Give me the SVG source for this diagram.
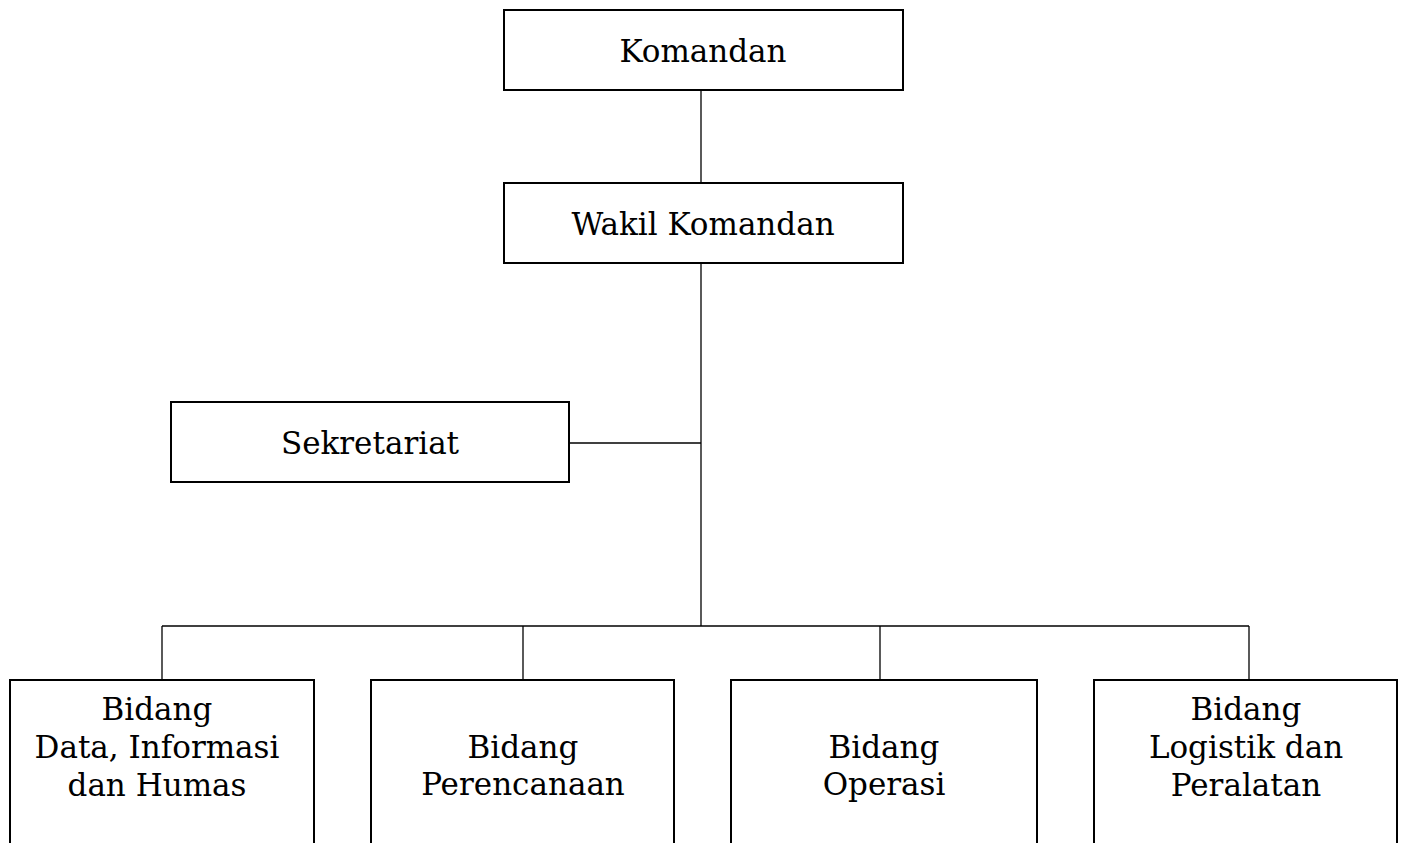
<svg xmlns="http://www.w3.org/2000/svg" width="1405" height="843" viewBox="0 0 1405 843">
<style>
.box{fill:#fff;stroke:#000;stroke-width:2}
.ln{stroke:#000;stroke-width:1.3;fill:none}
text{font-family:"DejaVu Serif","Liberation Serif",serif;font-size:31px;fill:#000;text-anchor:middle}
</style>
<rect width="1405" height="843" fill="#fff"/>
<g id="connectors">
<line class="ln" x1="701" y1="90" x2="701" y2="183"/>
<line class="ln" x1="701" y1="263" x2="701" y2="626"/>
<line class="ln" x1="569" y1="443" x2="701" y2="443"/>
<line class="ln" x1="162" y1="626" x2="1249" y2="626"/>
<line class="ln" x1="162" y1="626" x2="162" y2="680"/>
<line class="ln" x1="523" y1="626" x2="523" y2="680"/>
<line class="ln" x1="880" y1="626" x2="880" y2="680"/>
<line class="ln" x1="1249" y1="626" x2="1249" y2="680"/>
</g>
<g id="komandan"><rect class="box" x="504" y="10" width="399" height="80"/><text x="703" y="62">Komandan</text></g>
<g id="wakil"><rect class="box" x="504" y="183" width="399" height="80"/><text x="703" y="235">Wakil Komandan</text></g>
<g id="sekretariat"><rect class="box" x="171" y="402" width="398" height="80"/><text x="370" y="454">Sekretariat</text></g>
<g id="bidang-data"><rect class="box" x="10" y="680" width="304" height="180"/><text x="157" y="720">Bidang</text><text x="157" y="758">Data, Informasi</text><text x="157" y="796">dan Humas</text></g>
<g id="bidang-perencanaan"><rect class="box" x="371" y="680" width="303" height="180"/><text x="523" y="758">Bidang</text><text x="523" y="795">Perencanaan</text></g>
<g id="bidang-operasi"><rect class="box" x="731" y="680" width="306" height="180"/><text x="884" y="758">Bidang</text><text x="884" y="795">Operasi</text></g>
<g id="bidang-logistik"><rect class="box" x="1094" y="680" width="303" height="180"/><text x="1246" y="720">Bidang</text><text x="1246" y="758">Logistik dan</text><text x="1246" y="796">Peralatan</text></g>
</svg>
